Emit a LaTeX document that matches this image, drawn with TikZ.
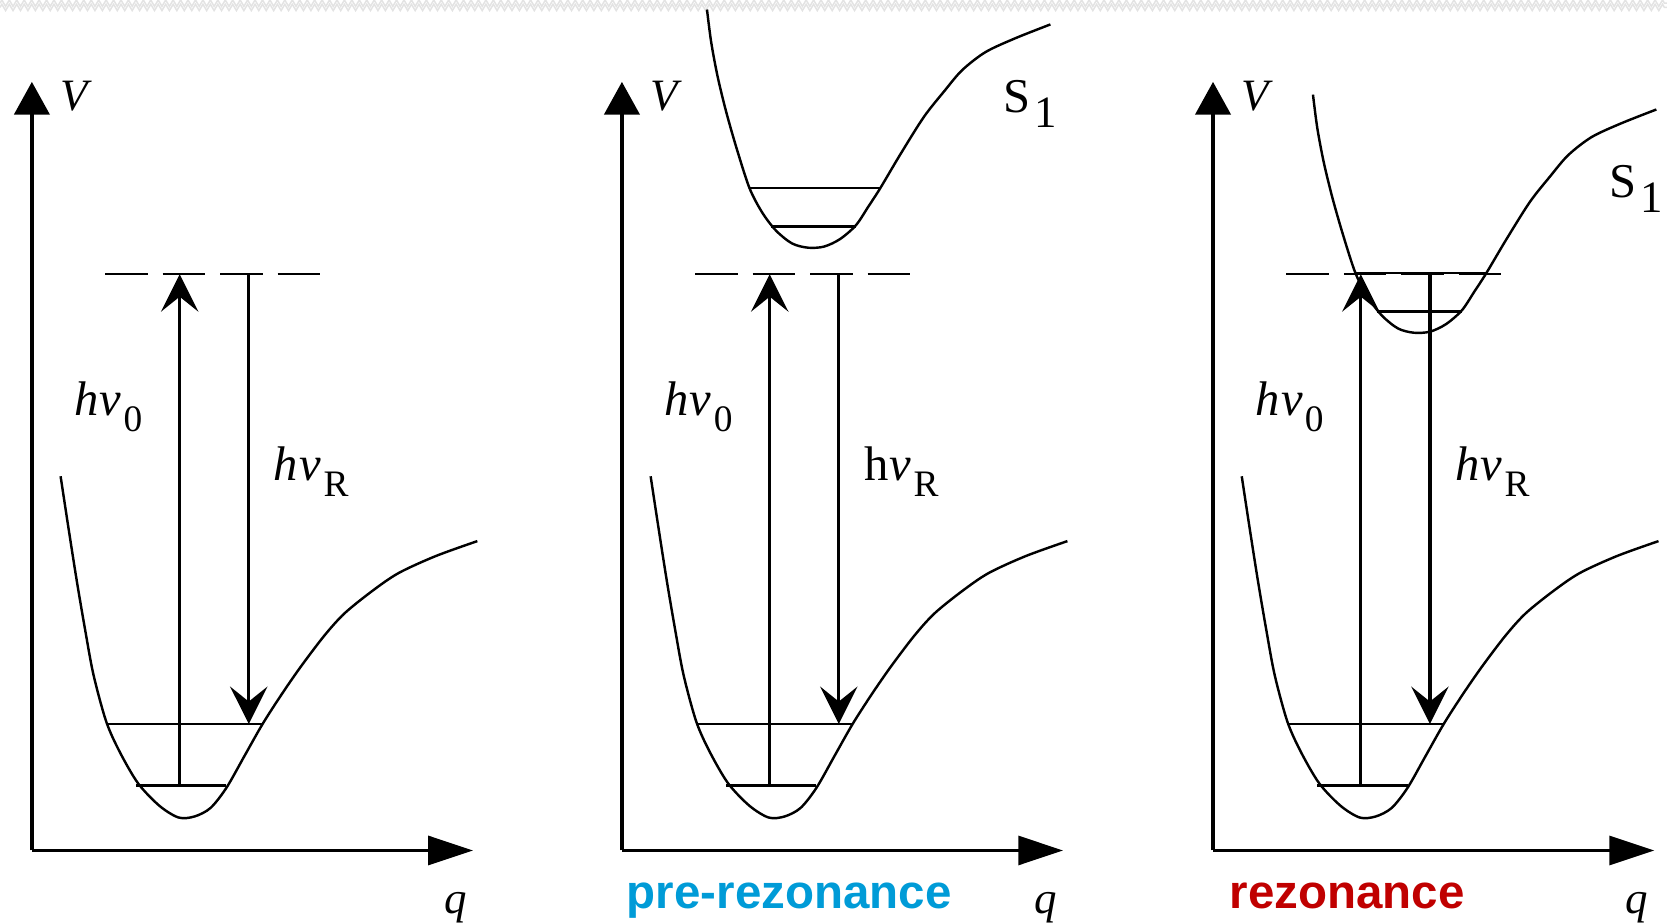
\documentclass[tikz,border=0pt]{standalone}
\usepackage{fontspec}
\setmainfont{Liberation Serif}
\newfontfamily\labelsans{Liberation Sans}
\usetikzlibrary{arrows.meta,decorations.pathmorphing}
\definecolor{preblue}{RGB}{0,155,215}
\definecolor{resred}{RGB}{192,0,0}

\tikzset{
  haxis/.style={line width=1pt, -{Triangle[length=12pt,width=7.7pt]}},
  vaxis/.style={line width=1.1pt, -{Triangle[length=8.8pt,width=9.4pt]}},
  pes/.style={line width=0.65pt, line join=round},
  level/.style={line width=0.65pt},
  virt/.style={line width=0.65pt, dash pattern=on 0.4cm off 0.14cm},
  trans/.style={line width=0.85pt, -{Stealth[length=10pt,width=10pt,inset=4pt]}},
  lbl/.style={inner sep=0pt, anchor=base west, font=\fontsize{13}{15}\selectfont},
  axlbl/.style={inner sep=0pt, anchor=base west, font=\itshape\fontsize{12}{14}\selectfont},
  bottomlbl/.style={inner sep=0pt, anchor=base west, font=\labelsans\bfseries\fontsize{12.7}{14}\selectfont},
}

\newcommand\subsc[1]{\kern0.6pt\raisebox{-0.32em}{\fontsize{10}{10}\selectfont #1}}

% common part of one panel: axes, ground state curve, levels, virtual level, transitions
\newcommand\groundpanel[2]{%
  \coordinate (#1-O) at (30,800);
  \coordinate (#1-Vtip) at (30,77);
  \coordinate (#1-qtip) at (445,800);
  \draw[vaxis] (#1-O) -- (#1-Vtip);
  \draw[haxis] (#1-O) -- (#1-qtip);
  \node[axlbl] (#1-V) at (56,104) {V};
  \node[axlbl] (#1-q) at (417,859) {q};
  \draw[pes] plot[smooth, tension=0.5] coordinates {(57,448) (64,494) (72,545) (80,592) (88,635) (100,679) (113,708) (130,737) (150,758) (168,769) (183,768) (198,760) (213,741) (230,711) (247,681) (265,653) (283,627) (305,598) (324,577) (350,556) (375,539) (410,523) (449,509)};
  \coordinate (#1-g1L) at (100,681);
  \coordinate (#1-g1R) at (247,681);
  \coordinate (#1-g0L) at (128,739);
  \coordinate (#1-g0R) at (213,739);
  \draw[level] (#1-g1L) -- (#1-g1R);
  \draw[level] (#1-g0L) -- (#1-g0R);
  \coordinate (#1-vL) at (99,258);
  \coordinate (#1-vR) at (302,258);
  \draw[virt] (#1-vL) -- (#1-vR);
  \coordinate (#1-upS) at (169,739);
  \coordinate (#1-upE) at (169,258);
  \coordinate (#1-dnS) at (234,258);
  \coordinate (#1-dnE) at (234,681);
  \draw[trans] (#1-upS) -- (#1-upE);
  \draw[trans] (#1-dnS) -- (#1-dnE);
  \node[lbl] (#1-h0) at (69,391) {\textit{h}\kern0.4pt\textit{ν}\subsc{0}};
  \node[lbl] (#1-hR) at (257,452) {#2\kern0.4pt\textit{ν}\subsc{R}};
}

% excited state S1 curve with its two levels and label
\newcommand\excited[1]{%
  \draw[pes] plot[smooth, tension=0.5] coordinates {(110,9) (114,40) (120,72) (128,105) (138,140) (150,177) (162,200) (175,217) (190,229) (205,233) (220,232) (235,225) (250,212) (262,194) (273,177) (292,145) (314,110) (333,86) (350,66) (372,49) (400,36) (433,23)};
  \coordinate (#1-s1L) at (150,177);
  \coordinate (#1-s1R) at (273,177);
  \coordinate (#1-s0L) at (170,213);
  \coordinate (#1-s0R) at (250,213);
  \draw[level] (#1-s1L) -- (#1-s1R);
  \draw[level] (#1-s0L) -- (#1-s0R);
  \node[inner sep=0pt, anchor=base west, font=\fontsize{13}{15}\selectfont] (#1-S) at (388,106) {S\kern1.2pt\raisebox{-0.3em}{\fontsize{12}{12}\selectfont 1}};
}

\begin{document}
\begin{tikzpicture}[x=0.01cm, y=-0.01cm]
  \useasboundingbox (0,0) rectangle (1568,868);
  % faint pattern at the top edge
  \draw[gray!22, line width=0.4pt, decorate, decoration={zigzag, segment length=0.07cm, amplitude=0.03cm}] (0,3) -- (1568,3);
  \draw[gray!22, line width=0.4pt, decorate, decoration={zigzag, segment length=0.07cm, amplitude=0.03cm}] (0,7) -- (1568,7);

  % panel 1: normal Raman
  \begin{scope}
    \groundpanel{a}{\textit{h}}
  \end{scope}

  % panel 2: pre-resonance
  \begin{scope}[shift={(555,0)}]
    \excited{b}
    \groundpanel{b}{h}
  \end{scope}

  % panel 3: resonance
  \begin{scope}[shift={(1111,0)}]
    \begin{scope}[shift={(14,80)}]
      \excited{c}
    \end{scope}
    \groundpanel{c}{\textit{h}}
  \end{scope}

  \node[bottomlbl, text=preblue] (prelbl) at (589,855) {pre-rezonance};
  \node[bottomlbl, text=resred] (reslbl) at (1156,855) {rezonance};
\end{tikzpicture}
\end{document}
